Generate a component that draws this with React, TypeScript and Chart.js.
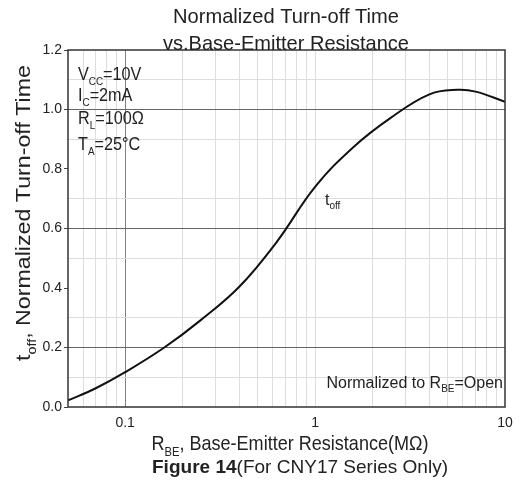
import React, { useEffect, useRef } from "react";
import { Chart, registerables } from "chart.js";

Chart.register(...registerables);

// ---- data ----
const rbe = [0.05, 0.07, 0.1, 0.16, 0.25, 0.4, 0.63, 1.0, 1.6, 2.5, 4.0, 5.6, 7.0, 10];
const toff = [0.022, 0.063, 0.117, 0.199, 0.292, 0.405, 0.556, 0.74, 0.875, 0.972, 1.051, 1.066, 1.06, 1.026];

const xTickValues = [0.05, 0.06, 0.07, 0.08, 0.09, 0.1, 0.2, 0.3, 0.4, 0.5, 0.6, 0.7, 0.8, 0.9, 1, 2, 3, 4, 5, 6, 7, 8, 9, 10];
const xLabeledTicks = [0.1, 1, 10];
const xTickLabels = ["0.1", "1", "10"];
const xDarkGrid = [0.1];

const yTickValues = [0, 0.1, 0.2, 0.3, 0.4, 0.5, 0.6, 0.7, 0.8, 0.9, 1.0, 1.1, 1.2];
const yLabeledTicks = [0, 0.2, 0.4, 0.6, 0.8, 1.0, 1.2];
const yTickLabels = ["0.0", "0.2", "0.4", "0.6", "0.8", "1.0", "1.2"];
const yDarkGrid = [0.2, 0.6, 1.0];
const yLightGrid = [0.1, 0.3, 0.5, 0.7, 0.9, 1.1];

const titleLines = ["Normalized Turn-off Time", "vs.Base-Emitter Resistance"];
const conditions = [
  [{ t: "V" }, { t: "CC", s: "sub" }, { t: "=10V" }],
  [{ t: "I" }, { t: "C", s: "sub" }, { t: "=2mA" }],
  [{ t: "R" }, { t: "L", s: "sub" }, { t: "=100Ω" }],
  [{ t: "T" }, { t: "A", s: "sub" }, { t: "=25°C" }],
];

const FONT = '"Liberation Sans", Arial, Helvetica, sans-serif';
const DARK = "#666666";
const LIGHT = "#dddddd";
const TEXT = "#222";

type Seg = { t: string; s?: "sub" | "sup"; b?: boolean };

function drawRich(
  ctx: CanvasRenderingContext2D,
  segs: Seg[],
  x: number,
  y: number,
  size: number,
  opts: { align?: "left" | "center" | "right"; width?: number; sx?: number; rotate?: boolean } = {}
) {
  const fontOf = (g: Seg) => `${g.b ? "bold " : ""}${g.s ? Math.round(size * 0.6) : size}px ${FONT}`;
  const widths = segs.map((g) => {
    ctx.font = fontOf(g);
    return ctx.measureText(g.t).width;
  });
  const W = widths.reduce((a, b) => a + b, 0);
  const scale = opts.width ? opts.width / W : opts.sx ?? 1;
  const align = opts.align ?? "left";
  ctx.save();
  ctx.translate(x, y);
  if (opts.rotate) ctx.rotate(-Math.PI / 2);
  ctx.scale(scale, 1);
  ctx.fillStyle = TEXT;
  ctx.textBaseline = "alphabetic";
  ctx.textAlign = "left";
  let cx = align === "left" ? 0 : align === "center" ? -W / 2 : -W;
  segs.forEach((g, i) => {
    ctx.font = fontOf(g);
    const dy = g.s === "sub" ? size * 0.28 : g.s === "sup" ? -size * 0.45 : 0;
    ctx.fillText(g.t, cx, dy);
    cx += widths[i];
  });
  ctx.restore();
}

const decorPlugin = {
  id: "decor",
  afterDraw(chart: any) {
    const ctx: CanvasRenderingContext2D = chart.ctx;
    const a = chart.chartArea;
    // plot frame
    ctx.save();
    ctx.strokeStyle = "#333";
    ctx.lineWidth = 1.5;
    ctx.strokeRect(a.left, a.top, a.right - a.left, a.bottom - a.top);
    ctx.restore();

    // title
    drawRich(ctx, [{ t: titleLines[0] }], 286, 23, 21, { align: "center", width: 226 });
    drawRich(ctx, [{ t: titleLines[1] }], 286, 50, 21, { align: "center", width: 246 });

    // y axis title
    drawRich(
      ctx,
      [{ t: "t" }, { t: "off", s: "sub" }, { t: ", Normalized Turn-off Time" }],
      30,
      213,
      21,
      { align: "center", rotate: true, width: 296 }
    );

    // x axis title
    drawRich(
      ctx,
      [{ t: "R" }, { t: "BE", s: "sub" }, { t: ", Base-Emitter Resistance(MΩ)" }],
      290,
      450,
      21,
      { align: "center", width: 277 }
    );
    drawRich(
      ctx,
      [{ t: "Figure 14", b: true }, { t: "(For CNY17 Series Only)" }],
      300,
      473,
      19,
      { align: "center", width: 296 }
    );

    // conditions
    const baselines = [80, 100.5, 124, 150];
    conditions.forEach((segs, i) => drawRich(ctx, segs as Seg[], 78, baselines[i], 18, { sx: 0.9 }));

    // curve label
    drawRich(ctx, [{ t: "t" }, { t: "off", s: "sub" }], 325, 205, 16);

    // normalization note
    drawRich(ctx, [{ t: "Normalized to R" }, { t: "BE", s: "sub" }, { t: "=Open" }], 503, 388, 16, { align: "right" });
  },
};

export default function App() {
  const ref = useRef<HTMLCanvasElement>(null);
  useEffect(() => {
    if (!ref.current) return;
    const chart = new Chart(ref.current, {
      type: "scatter",
      data: {
        datasets: [
          {
            data: rbe.map((x, i) => ({ x, y: toff[i] })),
            showLine: true,
            borderColor: "#111",
            borderWidth: 2,
            pointRadius: 0,
            tension: 0.4,
          } as any,
        ],
      },
      options: {
        animation: false,
        responsive: false,
        devicePixelRatio: 1,
        layout: { padding: { left: 0, right: 19, top: 50, bottom: 0 } },
        plugins: { legend: { display: false }, tooltip: { enabled: false } },
        scales: {
          x: {
            type: "logarithmic",
            min: 0.05,
            max: 10,
            border: { display: false },
            afterBuildTicks: (scale: any) => {
              scale.ticks = xTickValues.map((v) => ({ value: v }));
            },
            afterFit: (scale: any) => {
              scale.height = 78;
            },
            grid: {
              drawTicks: false,
              color: (c: any) => {
                const v = c.tick?.value;
                if (v === 0.05 || v === 10) return "rgba(0,0,0,0)";
                return xDarkGrid.includes(v) ? "#808080" : LIGHT;
              },
              lineWidth: 1,
            },
            ticks: {
              autoSkip: false,
              maxRotation: 0,
              padding: 8,
              color: TEXT,
              font: { family: FONT, size: 14 },
              callback: (v: any) => {
                const i = xLabeledTicks.indexOf(Number(v));
                return i >= 0 ? xTickLabels[i] : "";
              },
            },
          },
          y: {
            type: "linear",
            min: 0,
            max: 1.2,
            border: { display: false },
            afterBuildTicks: (scale: any) => {
              scale.ticks = yTickValues.map((v) => ({ value: v }));
            },
            afterFit: (scale: any) => {
              scale.width = 68;
            },
            grid: {
              tickLength: 4,
              color: (c: any) => {
                const v = Math.round((c.tick?.value ?? 0) * 10) / 10;
                if (yDarkGrid.includes(v)) return DARK;
                if (yLightGrid.includes(v)) return LIGHT;
                return "rgba(0,0,0,0)";
              },
              tickColor: (c: any) => {
                const v = Math.round((c.tick?.value ?? 0) * 10) / 10;
                return yLabeledTicks.includes(v) ? "#444" : "rgba(0,0,0,0)";
              },
            },
            ticks: {
              autoSkip: false,
              padding: 2,
              color: TEXT,
              font: { family: FONT, size: 14 },
              callback: (v: any) => {
                const i = yLabeledTicks.indexOf(Math.round(Number(v) * 10) / 10);
                return i >= 0 ? yTickLabels[i] : "";
              },
            },
          },
        },
      } as any,
      plugins: [decorPlugin],
    });
    return () => chart.destroy();
  }, []);

  return (
    <div style={{ position: "fixed", left: 0, top: 0, width: 524, height: 485, background: "#fff" }}>
      <canvas ref={ref} width={524} height={485} style={{ width: 524, height: 485, display: "block" }} />
    </div>
  );
}
